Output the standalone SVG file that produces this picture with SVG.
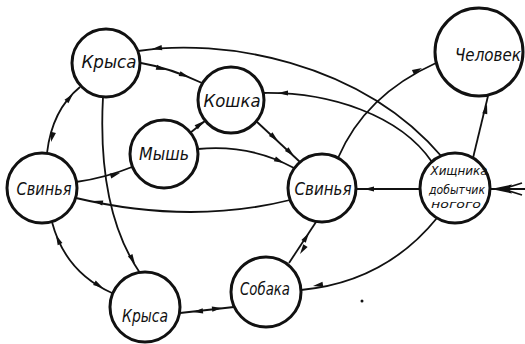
<svg xmlns="http://www.w3.org/2000/svg" xmlns:xlink="http://www.w3.org/1999/xlink" width="525" height="344" viewBox="0 0 525 344">
<style>
.node{fill:#fff;stroke:#111;stroke-width:3}
.lbl{font-family:"Liberation Sans Narrow","DejaVu Sans Condensed","Liberation Sans",sans-serif;font-style:italic;font-size:17px;fill:#111;text-anchor:middle}
.sm{font-size:13px}
.xs{font-size:11px}
.edge{fill:none;stroke:#111;stroke-width:1.8}
.ah{fill:#111}
</style>
<defs>
<path id="ah" d="M0,0 L-10,-2.6 L-10,2.6 Z"/>
</defs>
<rect width="525" height="344" fill="#fff"/>
<g id="connectors">
<path class="edge" d="M141,63 Q170,68 202,83"/>
<path class="edge" d="M138,51 C220,38 360,60 443,158"/>
<path class="edge" d="M432,162 C400,115 330,92 263,93"/>
<path class="edge" d="M256,121 L300,162"/>
<path class="edge" d="M190,133 L205,121"/>
<path class="edge" d="M198,149 Q250,144 294,168"/>
<path class="edge" d="M76,182 Q105,178 132,167"/>
<path class="edge" d="M290,200 Q190,225 76,198"/>
<path class="edge" d="M420,189 L356,189"/>
<path class="edge" d="M338,158 Q365,95 436,63"/>
<path class="edge" d="M473,158 L488,96"/>
<path class="edge" d="M525,189 L491,189"/>
<path class="edge" d="M437,218 Q385,282 301,290"/>
<path class="edge" d="M316,222 L289,263"/>
<path class="edge" d="M234,307 L180,313"/>
<path class="edge" d="M52,222 Q65,272 112,293"/>
<path class="edge" d="M47,153 Q52,110 80,87"/>
<path class="edge" d="M103,97 Q97,210 140,273"/>
<g class="ah">
<use xlink:href="#ah" transform="translate(166,70) rotate(16)"/>
<use xlink:href="#ah" transform="translate(189,77) rotate(20)"/>
<use xlink:href="#ah" transform="translate(152,49) rotate(172)"/>
<use xlink:href="#ah" transform="translate(278,93) rotate(180)"/>
<use xlink:href="#ah" transform="translate(278,141) rotate(43)"/>
<use xlink:href="#ah" transform="translate(294,156) rotate(43)"/>
<use xlink:href="#ah" transform="translate(204,121) rotate(-39)"/>
<use xlink:href="#ah" transform="translate(284,163) rotate(24)"/>
<use xlink:href="#ah" transform="translate(120,173) rotate(-18)"/>
<use xlink:href="#ah" transform="translate(93,201) rotate(192)"/>
<use xlink:href="#ah" transform="translate(364,189) rotate(180)"/>
<use xlink:href="#ah" transform="translate(422,68) rotate(-26)"/>
<use xlink:href="#ah" transform="translate(487,104) rotate(-77)"/>
<use xlink:href="#ah" transform="translate(313,286) rotate(171)"/>
<use xlink:href="#ah" transform="translate(309,233) rotate(-57)"/>
<use xlink:href="#ah" transform="translate(300,254) rotate(123)"/>
<use xlink:href="#ah" transform="translate(193,312) rotate(174)"/>
<use xlink:href="#ah" transform="translate(222,308) rotate(-6)"/>
<use xlink:href="#ah" transform="translate(56,235) rotate(246)"/>
<use xlink:href="#ah" transform="translate(103,288) rotate(31)"/>
<use xlink:href="#ah" transform="translate(51,142) rotate(104)"/>
<use xlink:href="#ah" transform="translate(73,94) rotate(-49)"/>
<use xlink:href="#ah" transform="translate(135,264) rotate(61)"/>
<path d="M491,189 L512,184.5 L509,189 L512,193.5 Z"/>
</g>
<path class="edge" d="M522,183 L503,189 L522,195"/>
</g>
<g id="krysa-top"><circle class="node" cx="106" cy="63" r="34"/><text class="lbl" x="109" y="68" textLength="55" lengthAdjust="spacingAndGlyphs">Крыса</text></g>
<g id="koshka"><circle class="node" cx="231" cy="100" r="33"/><text class="lbl" x="232" y="107" textLength="57" lengthAdjust="spacingAndGlyphs">Кошка</text></g>
<g id="mysh"><circle class="node" cx="164" cy="154" r="34"/><text class="lbl" x="164" y="160" textLength="50" lengthAdjust="spacingAndGlyphs">Мышь</text></g>
<g id="svinya-left"><circle class="node" cx="42" cy="188" r="35"/><text class="lbl" x="44" y="195" textLength="55" lengthAdjust="spacingAndGlyphs">Свинья</text></g>
<g id="svinya-center"><circle class="node" cx="322" cy="188" r="34"/><text class="lbl" x="323" y="195" textLength="57" lengthAdjust="spacingAndGlyphs">Свинья</text></g>
<g id="khishchnik"><circle class="node" cx="455" cy="188" r="35"/>
<text class="lbl sm" x="459" y="175" textLength="57" lengthAdjust="spacingAndGlyphs">Хищника</text>
<text class="lbl sm" x="457" y="194" textLength="56" lengthAdjust="spacingAndGlyphs">добытчик</text>
<text class="lbl xs" x="456" y="208" textLength="50" lengthAdjust="spacingAndGlyphs">ногого</text></g>
<g id="chelovek"><circle class="node" cx="479" cy="52" r="44"/><text class="lbl" x="488" y="61" textLength="66" lengthAdjust="spacingAndGlyphs">Человек</text></g>
<g id="krysa-bottom"><circle class="node" cx="145" cy="307" r="35"/><text class="lbl" x="145" y="322" textLength="46" lengthAdjust="spacingAndGlyphs">Крыса</text></g>
<g id="sobaka"><circle class="node" cx="266" cy="292" r="35"/><text class="lbl" x="265" y="295" textLength="50" lengthAdjust="spacingAndGlyphs">Собака</text></g>
<circle cx="362" cy="301" r="1.5" fill="#111"/>
</svg>
